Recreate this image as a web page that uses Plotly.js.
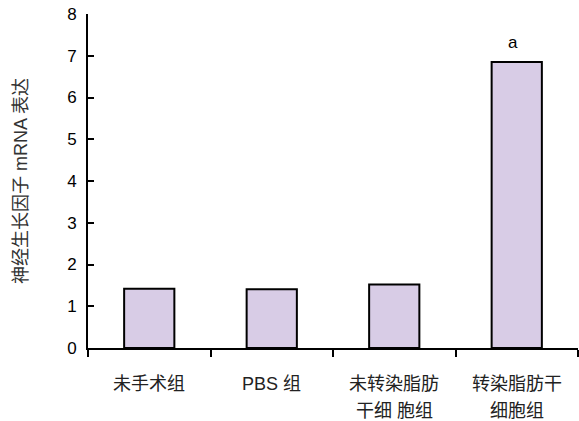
<!DOCTYPE html>
<html>
<head>
<meta charset="utf-8">
<script src="https://cdn.plot.ly/plotly-3.0.1.min.js"></script>
<style>html,body{margin:0;padding:0;background:#fff;}#chart{width:579px;height:421px;}</style>
</head>
<body>
<div id="chart"></div>
<script>
// Data
const categories = ["未手术组", "PBS 组", "未转染脂肪干细胞组", "转染脂肪干细胞组"];
const labelLine1 = ["未手术组", "PBS 组", "未转染脂肪", "转染脂肪干"];
const labelLine2 = ["", "", "干细 胞组", "细胞组"];
const values = [1.42, 1.41, 1.52, 6.85];
const marks = ["", "", "", "a"];
const yTickVals = [0, 1, 2, 3, 4, 5, 6, 7, 8];
const yTitle = "神经生长因子 mRNA 表达";

const cjk = "Liberation Sans, Arial, Noto Sans CJK SC, sans-serif";

const trace = {
  type: "bar",
  x: categories,
  y: values,
  width: 0.41,
  marker: {color: "#D8CCE6", line: {color: "#000", width: 2}},
  hoverinfo: "skip"
};

const annotations = [];
categories.forEach((c, i) => {
  annotations.push({x: c, xref: "x", y: 0, yref: "paper", text: labelLine1[i], showarrow: false,
    yanchor: "middle", yshift: -36, font: {family: cjk, size: 18, color: "#222"}});
  if (labelLine2[i]) {
    annotations.push({x: c, xref: "x", y: 0, yref: "paper", text: labelLine2[i], showarrow: false,
      yanchor: "middle", yshift: -63, font: {family: cjk, size: 18, color: "#222"}});
  }
  if (marks[i]) {
    annotations.push({x: c, xref: "x", y: values[i], yref: "y", text: marks[i], showarrow: false,
      yanchor: "bottom", yshift: 8, xshift: -4, font: {family: cjk, size: 17, color: "#000"}});
  }
});

const layout = {
  width: 579, height: 421,
  margin: {l: 88, r: 1, t: 14, b: 73, pad: 0},
  paper_bgcolor: "#fff", plot_bgcolor: "#fff",
  showlegend: false,
  xaxis: {
    type: "category",
    range: [-0.5, 3.5],
    showline: true, linecolor: "#000", linewidth: 2,
    ticks: "outside", tickson: "boundaries", ticklen: 7, tickwidth: 2, tickcolor: "#000",
    showticklabels: false,
    showgrid: false, zeroline: false, fixedrange: true
  },
  yaxis: {
    range: [0, 8],
    tickvals: yTickVals,
    showline: true, linecolor: "#000", linewidth: 2,
    ticks: "inside", ticklen: 6, tickwidth: 2, tickcolor: "#000",
    ticklabelstandoff: 6,
    tickfont: {family: "Liberation Sans, Arial, sans-serif", size: 17, color: "#000"},
    showgrid: false, zeroline: false, fixedrange: true,
    title: {text: yTitle, standoff: 35, font: {family: cjk, size: 18, color: "#333"}}
  },
  annotations: annotations
};

Plotly.newPlot("chart", [trace], layout, {displayModeBar: false, staticPlot: true});
</script>
</body>
</html>
